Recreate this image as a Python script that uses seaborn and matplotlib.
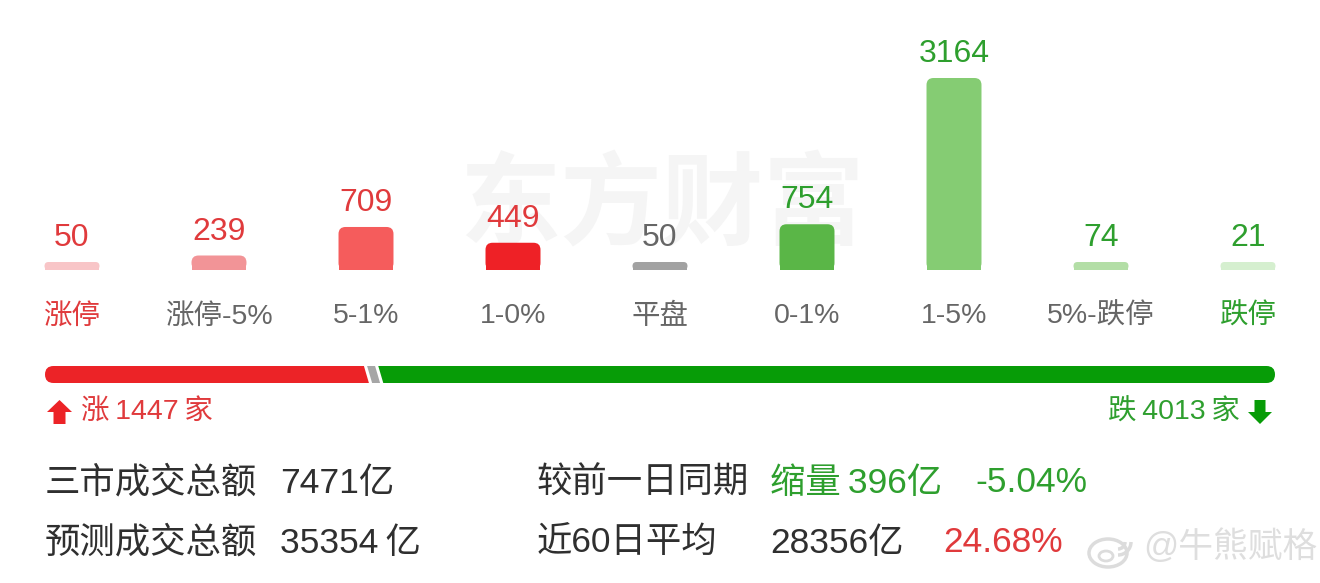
import numpy as np
import pandas as pd
import matplotlib
matplotlib.use("Agg")
import matplotlib.pyplot as plt
import seaborn as sns
from matplotlib.patches import FancyBboxPatch, Rectangle, Polygon, Ellipse, Arc

# ---------------- data ----------------
categories = ["涨停", "涨停-5%", "5-1%", "1-0%", "平盘", "0-1%", "1-5%", "5%-跌停", "跌停"]
counts = [50, 239, 709, 449, 50, 754, 3164, 74, 21]
bar_colors = ["#f8c5c7", "#f29497", "#f55c5c", "#ee2126", "#a2a2a2",
              "#5ab647", "#85cc73", "#b3dea6", "#d5efcf"]
value_colors = ["#e03a3c"] * 4 + ["#666666"] + ["#2e9f2e"] * 4
label_colors = ["#e03a3c"] + ["#666666"] * 7 + ["#2e9f2e"]

up_count = 1447
flat_count = 50
down_count = 4013

stat_labels = ["三市成交总额", "预测成交总额"]
stat_values = ["7471亿", "35354\u2009亿"]
cmp_labels = ["较前一日同期", "近60日平均"]
cmp_values = ["缩量\u2009396亿", "28356亿"]
cmp_pcts = ["-5.04%", "24.68%"]

# ---------------- style ----------------
sns.set_theme(style="white")
plt.rcParams["font.family"] = ["Liberation Sans", "Noto Sans CJK SC", "DejaVu Sans"]

RED = "#e03a3c"
GREEN = "#2e9f2e"
DARK = "#2f2f2f"

W, H = 1320, 583
fig = plt.figure(figsize=(W / 100, H / 100), dpi=100)
fig.patch.set_facecolor("white")

# background overlay in pixel coords
bg = fig.add_axes([0, 0, 1, 1])
bg.set_xlim(0, W)
bg.set_ylim(H, 0)
bg.axis("off")
bg.text(662, 208, "东方财富", fontsize=73, fontweight="bold", color="#f5f5f5",
        ha="center", va="center", family=["Noto Sans CJK SC"])

# ---------------- bar chart ----------------
step = 147
x0 = 72
base_px, top_px = 270, 30
ax = fig.add_axes([(x0 - step / 2) / W, 1 - base_px / H, 9 * step / W, (base_px - top_px) / H])
ax.patch.set_alpha(0)

ymax = max(counts) * (base_px - top_px) / 192
min_h = max(counts) * 8 / 192
display = np.maximum(np.array(counts, dtype=float), min_h)
df = pd.DataFrame({"cat": categories, "count": display})
sns.barplot(data=df, x="cat", y="count", hue="cat", order=categories, hue_order=categories,
            palette=dict(zip(categories, bar_colors)), legend=False, width=0.374,
            saturation=1, ax=ax)
ax.set_xlim(-0.5, 8.5)
ax.set_ylim(0, ymax)
for sp in ax.spines.values():
    sp.set_visible(False)
ax.set_yticks([])
ax.set_xlabel("")
ax.set_ylabel("")
ax.tick_params(axis="x", length=0, pad=24, labelsize=20.5)
for lbl, c in zip(ax.get_xticklabels(), label_colors):
    lbl.set_color(c)

xpp = 1 / step
ypp = ymax / (base_px - top_px)
aspect = ypp / xpp
for p in list(ax.patches):
    x, y, w, h = p.get_x(), p.get_y(), p.get_width(), p.get_height()
    fc = p.get_facecolor()
    p.remove()
    r_px = min(7, (h / ypp) / 2)
    ax.add_patch(FancyBboxPatch((x, y), w, h, boxstyle=f"round,pad=0,rounding_size={r_px * xpp}",
                                mutation_aspect=aspect, fc=fc, ec="none"))
    ax.add_patch(Rectangle((x, y), w, h / 2, fc=fc, ec="none"))

for i, (v, c) in enumerate(zip(counts, value_colors)):
    ax.annotate(f"{v}", (i, display[i]), xytext=(0, 11.5), textcoords="offset points",
                ha="center", va="baseline", fontsize=23, color=c, annotation_clip=False)

# ---------------- up/down progress bar ----------------
total = up_count + flat_count + down_count
pb = fig.add_axes([45 / W, 1 - 383 / H, 1230 / W, 17 / H])
pb.axis("off")
pb.set_xlim(0, total)
pb.set_ylim(0, 1)
pxx = total / 1230
pyy = 1 / 17
clip = FancyBboxPatch((0, 0), total, 1, boxstyle=f"round,pad=0,rounding_size={8.5 * pxx}",
                      mutation_aspect=pyy / pxx, fc="none", ec="none")
pb.add_patch(clip)
s = 2.5 * pxx
g = 1.6 * pxx
b1 = up_count
b2 = up_count + flat_count
segs = [
    ([(-10 * pxx, 0), (-10 * pxx, 1), (b1 - g - s, 1), (b1 - g + s, 0)], "#ec2327"),
    ([(b1 + g + s, 0), (b1 + g - s, 1), (b2 - g - s, 1), (b2 - g + s, 0)], "#a6a6a6"),
    ([(b2 + g + s, 0), (b2 + g - s, 1), (total + 10 * pxx, 1), (total + 10 * pxx, 0)], "#079c07"),
]
for pts, c in segs:
    poly = Polygon(pts, closed=True, fc=c, ec="none")
    pb.add_patch(poly)
    poly.set_clip_path(clip)

# arrows + counts
bg.add_patch(Polygon([(59.5, 400), (72, 412), (65.5, 412), (65.5, 424), (53.5, 424),
                      (53.5, 412), (47, 412)], closed=True, fc="#ec2327", ec="none"))
bg.add_patch(Polygon([(1260, 424), (1272, 412), (1265.5, 412), (1265.5, 400), (1254.5, 400),
                      (1254.5, 412), (1248, 412)], closed=True, fc="#079c07", ec="none"))
bg.text(81, 412, f"涨\u2009{up_count}\u2009家", fontsize=20.5, color=RED, ha="left", va="center")
bg.text(1240, 412, f"跌\u2009{down_count}\u2009家", fontsize=20.5, color=GREEN, ha="right", va="center")

# ---------------- stats text ----------------
rows_y = [483, 543]
for yy, lab, val, clab, cval, vcol in zip(
        rows_y, stat_labels, stat_values, cmp_labels, cmp_values, [GREEN, DARK]):
    bg.text(45, yy, lab, fontsize=25.5, color=DARK, va="center")
    bg.text(280, yy, val, fontsize=25.5, color=DARK, va="center")
    bg.text(537, yy, clab, fontsize=25.5, color=DARK, va="center")
    bg.text(770, yy, cval, fontsize=25.5, color=vcol, va="center")
bg.text(975, rows_y[0], cmp_pcts[0], fontsize=25.5, color=GREEN, va="center")
bg.text(943, rows_y[1], cmp_pcts[1], fontsize=25.5, color=RED, va="center")

# weibo watermark
bg.add_patch(Ellipse((1108, 553), 38, 28, fill=False, ec="#dcdcdc", lw=2.5))
bg.add_patch(Ellipse((1106, 556), 14, 10, fill=False, ec="#dcdcdc", lw=2))
bg.add_patch(Arc((1118, 542), 26, 26, theta1=0, theta2=90, ec="#dcdcdc", lw=2.5))
bg.add_patch(Arc((1118, 542), 14, 14, theta1=0, theta2=90, ec="#dcdcdc", lw=2.5))
bg.text(1143, 547, "@牛熊赋格", fontsize=25, color="#dedede", va="center")

fig.savefig("out.png", dpi=100, facecolor="white")
